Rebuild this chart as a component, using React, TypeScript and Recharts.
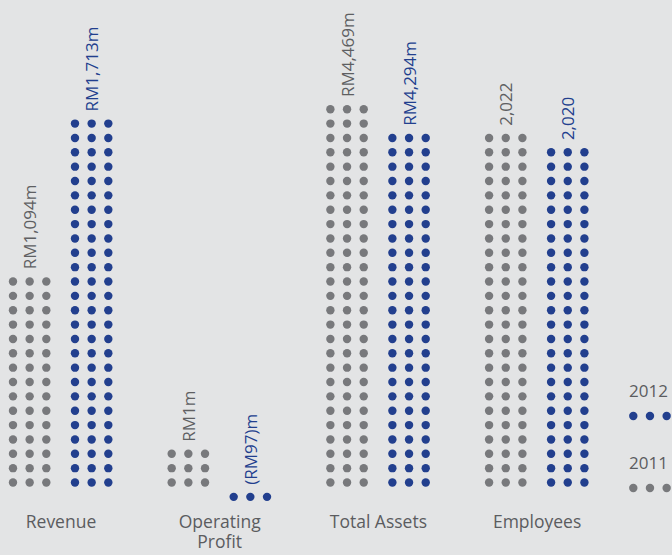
import { Bar, BarChart, LabelList, Legend, XAxis, YAxis } from "recharts";

const categories = ["Revenue", "Operating Profit", "Total Assets", "Employees"];
// number of dot rows drawn for each column (one row of 3 dots per step)
const dotRows2011 = [15, 3, 27, 25];
const dotRows2012 = [26, -1, 25, 24];
const labels2011 = ["RM1,094m", "RM1m", "RM4,469m", "2,022"];
const labels2012 = ["RM1,713m", "(RM97)m", "RM4,294m", "2,020"];

const GREY = "#78797c";
const BLUE = "#223f8e";
const TEXT = "#5b5c5f";

const data = categories.map((name, i) => ({
  name,
  y2011: dotRows2011[i],
  y2012: dotRows2012[i],
  l2011: labels2011[i],
  l2012: labels2012[i],
}));

const DotColumn = (props: any) => {
  const { x, y, width, height, fill, value } = props;
  const v = Array.isArray(value) ? value[1] - value[0] : value;
  const n = Math.abs(v);
  if (!n) return null;
  const top = Math.min(y, y + height);
  const pitch = Math.abs(height) / n;
  const dots = [];
  for (let i = 0; i < n; i++) {
    for (let j = 0; j < 3; j++) {
      dots.push(
        <circle
          key={i + "-" + j}
          cx={x + (width * (2 * j + 1)) / 6}
          cy={top + (i + 0.5) * pitch}
          r={4.2}
          fill={fill}
        />
      );
    }
  }
  return <g>{dots}</g>;
};

const makeLabel = (color: string) => (props: any) => {
  const vb = props.viewBox || {};
  const x = props.x ?? vb.x;
  const y = props.y ?? vb.y;
  const width = props.width ?? vb.width;
  const height = props.height ?? vb.height;
  const cx = x + width / 2;
  const ty = Math.min(y, y + height) - 5;
  return (
    <text
      x={cx}
      y={ty}
      transform={`rotate(-90 ${cx} ${ty})`}
      textAnchor="start"
      dominantBaseline="central"
      fill={color}
      fontSize={17}
    >
      {props.value}
    </text>
  );
};

const CategoryTick = ({ x, y, payload }: any) => {
  const words =
    payload.value.length > 12 ? payload.value.split(" ") : [payload.value];
  return (
    <text x={x} y={y} textAnchor="middle" fill={TEXT} fontSize={17.5}>
      {words.map((w: string, i: number) => (
        <tspan key={i} x={x} dy={i === 0 ? 24 : 20}>
          {w}
        </tspan>
      ))}
    </text>
  );
};

const DotLegend = ({ payload }: any) => (
  <div>
    {[...(payload || [])].reverse().map((entry: any) => (
      <div key={entry.value} style={{ height: 72.3 }}>
        <div style={{ fontSize: 17, lineHeight: "20px", color: TEXT }}>
          {entry.value}
        </div>
        <svg width={50} height={10} style={{ display: "block", marginTop: 9.8 }}>
          {[0, 1, 2].map((j) => (
            <circle key={j} cx={4.3 + j * 16.67} cy={5} r={4.2} fill={entry.color} />
          ))}
        </svg>
      </div>
    ))}
  </div>
);

export default function App() {
  return (
    <div
      style={{
        position: "absolute",
        left: 0,
        top: 0,
        width: 672,
        height: 555,
        overflow: "hidden",
        background: "#e3e4e5",
        fontFamily: '"Open Sans", sans-serif',
      }}
    >
      <BarChart
        width={672}
        height={555}
        data={data}
        barSize={50}
        barGap={12}
        margin={{ top: 102.05, right: 55.55, bottom: 5.95, left: -18.35 }}
      >
        <XAxis
          dataKey="name"
          axisLine={false}
          tickLine={false}
          tickSize={0}
          tickMargin={0}
          height={45}
          interval={0}
          tick={<CategoryTick />}
        />
        <YAxis hide domain={[-1, 27]} allowDataOverflow />
        <Legend
          layout="vertical"
          align="center"
          verticalAlign="middle"
          content={<DotLegend />}
          wrapperStyle={{ position: "absolute", left: 629, top: 381.2, width: 50 }}
        />
        <Bar
          dataKey="y2011"
          name="2011"
          fill={GREY}
          shape={<DotColumn />}
          isAnimationActive={false}
        >
          <LabelList dataKey="l2011" content={makeLabel("#5e5f62")} />
        </Bar>
        <Bar
          dataKey="y2012"
          name="2012"
          fill={BLUE}
          shape={<DotColumn />}
          isAnimationActive={false}
        >
          <LabelList dataKey="l2012" content={makeLabel(BLUE)} />
        </Bar>
      </BarChart>
    </div>
  );
}
